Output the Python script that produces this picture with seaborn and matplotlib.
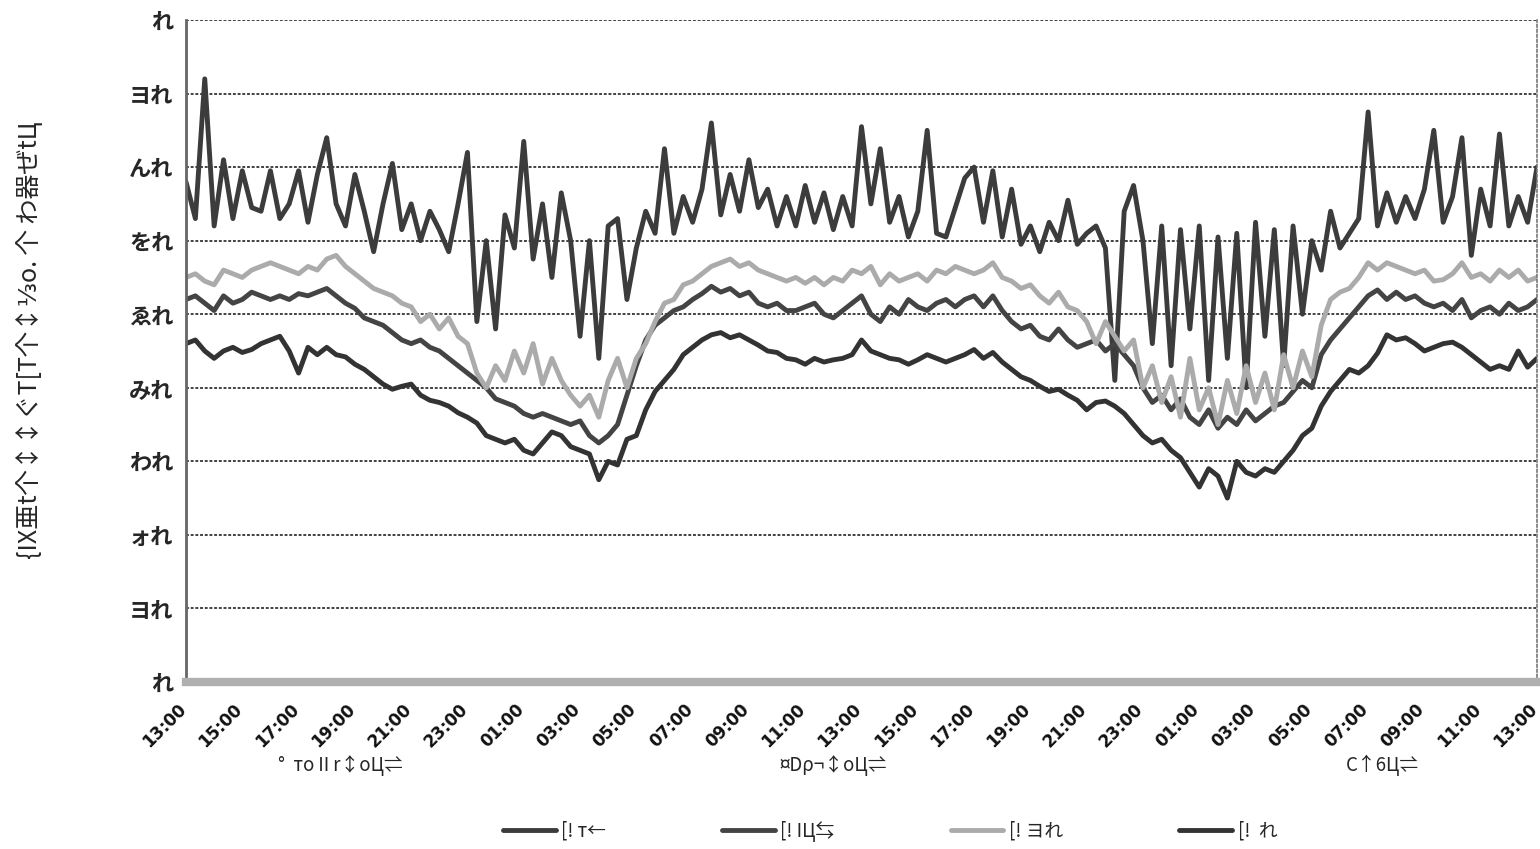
import numpy as np
import pandas as pd
import matplotlib
matplotlib.use("Agg")
import matplotlib.pyplot as plt
import matplotlib.transforms as mtransforms
import seaborn as sns
from matplotlib.lines import Line2D

# ---------------- data ----------------
x_tick_labels = ["13:00", "15:00", "17:00", "19:00", "21:00", "23:00", "01:00", "03:00",
                 "05:00", "07:00", "09:00", "11:00", "13:00", "15:00", "17:00", "19:00",
                 "21:00", "23:00", "01:00", "03:00", "05:00", "07:00", "09:00", "11:00", "13:00"]
y_tick_values = [0, 10, 20, 30, 40, 50, 60, 70, 80, 90]
y_tick_labels = ["れ", "ヨれ", "ォれ", "われ", "みれ", "ゑれ", "をれ", "んれ", "ヨれ", "れ"]
y_label = "{IX亜t个↕↕ぐT[T个↕⅓o. 个 わ器ぜtЦ"
day_labels = ["°  тоⅡr↕оЦ⇌", "¤Dρ¬↕оЦ⇌", "C↑6Ц⇌"]
day_centers = [5.5, 23.0, 42.5]   # hours from start
series_names = ["[! т←", "[! IЦ⇆", "[! ヨれ", "[!  れ"]

# 20-minute samples over 48 hours (145 points)
series_a = [68, 63, 82, 62, 71, 63, 69.5, 64.5, 64, 69.5, 63, 65, 69.5, 62.5, 69, 74, 65, 62, 69, 64,
            58.5, 65, 70.5, 61.5, 65, 60, 64, 61.5, 58.5, 65, 72, 49, 60, 48, 63.5, 59, 73.5, 57.5, 65, 55,
            66.5, 60, 47, 60, 44, 62, 63, 52, 59, 64, 61, 72.5, 61, 66, 62.5, 67, 76, 63.5, 69, 64,
            71, 64.5, 67, 62, 66, 62, 67.5, 62.5, 66.5, 61.5, 66, 62, 75.5, 65, 72.5, 62.5, 66, 60.5, 64, 75,
            61, 60.5, 64.5, 68.5, 70, 62.5, 69.5, 60.5, 67, 59.5, 62, 58.5, 62.5, 60, 65.5, 59.5, 61, 62, 59, 41,
            64, 67.5, 60, 46, 62, 43, 61.5, 48, 62, 41, 60.5, 44, 61, 40, 62.5, 47, 61.5, 43, 62, 50,
            60, 56, 64, 59, 61, 63, 77.5, 62, 66.5, 62.5, 66, 63, 67, 75, 62.5, 66, 74, 58, 67, 62,
            74.5, 62, 66, 62.5, 70]
series_b = [52, 52.5, 51.5, 50.5, 52.5, 51.5, 52, 53, 52.5, 52, 52.5, 52, 52.8, 52.5, 53, 53.5, 52.5, 51.5, 50.8, 49.5,
            49, 48.5, 47.5, 46.5, 46, 46.5, 45.5, 45, 44, 43, 42, 41, 40, 38.5, 38, 37.5, 36.5, 36, 36.5, 36,
            35.5, 35, 35.5, 33.5, 32.5, 33.5, 35, 39, 43, 46.5, 48.5, 49.5, 50.5, 51, 52, 52.8, 53.8, 53, 53.5, 52.5,
            53, 51.5, 51, 51.5, 50.5, 50.5, 51, 51.5, 50, 49.5, 50.5, 51.5, 52.5, 50, 49, 51, 50, 52, 51, 50.5,
            51.5, 52, 51, 52, 52.5, 51, 52.5, 50.5, 49, 48, 48.5, 47, 46.5, 48, 46.5, 45.5, 46, 46.5, 45, 46,
            44.5, 43, 40, 38, 39, 37, 38.5, 36, 35, 37, 34.5, 36, 35, 37, 35.5, 36.5, 37.5, 38, 39.5, 41,
            40, 44.5, 46.5, 48, 49.5, 51, 52.5, 53.3, 52, 53, 52, 52.5, 51.5, 51, 51.5, 50.5, 52, 49.5, 50.5, 51,
            50, 51.5, 50.5, 51, 52]
series_c = [55, 55.5, 54.5, 54, 56, 55.5, 55, 56, 56.5, 57, 56.5, 56, 55.5, 56.5, 56, 57.5, 58, 56.5, 55.5, 54.5,
            53.5, 53, 52.5, 51.5, 51, 49, 50, 48, 49.5, 47, 46, 42, 40, 43, 41, 45, 42, 46, 40.5, 44,
            41, 39, 37.5, 39, 36, 41, 44, 40, 44, 46, 49, 51.5, 52, 54, 54.5, 55.5, 56.5, 57, 57.5, 56.5,
            57, 56, 55.5, 55, 54.5, 55, 54.2, 55, 54, 55, 54.5, 56, 55.5, 56.5, 54, 55.5, 54.5, 55, 55.5, 54.5,
            56, 55.5, 56.5, 56, 55.5, 56, 57, 55, 54.5, 53.5, 54, 52.5, 51.5, 53, 51, 50.5, 49, 46, 49, 47,
            45, 46.5, 40, 43, 38, 41.5, 36, 44, 37, 40, 35, 41, 36.5, 43, 38, 42, 37, 44.5, 40, 45,
            41.5, 48.5, 52, 53, 53.5, 55, 57, 56, 57, 56.5, 56, 55.5, 56, 54.5, 54.7, 55.5, 57, 55, 55.5, 54.5,
            56, 55, 56, 54.5, 55]
series_d = [46, 46.5, 45, 44, 45, 45.5, 44.8, 45.2, 46, 46.5, 47, 45, 42, 45.5, 44.5, 45.5, 44.5, 44.2, 43.2, 42.5,
            41.5, 40.5, 39.8, 40.2, 40.5, 39, 38.3, 38, 37.5, 36.6, 36, 35.2, 33.5, 33, 32.5, 33, 31.5, 31, 32.5, 34,
            33.5, 32, 31.5, 31, 27.5, 30, 29.5, 33, 33.5, 37, 39.5, 41, 42.5, 44.5, 45.5, 46.5, 47.2, 47.5, 46.8, 47.2,
            46.5, 45.8, 45, 44.8, 44, 43.8, 43.2, 44, 43.5, 43.8, 44, 44.5, 46.5, 45, 44.5, 44, 43.8, 43.2, 43.8, 44.5,
            44, 43.5, 44, 44.5, 45.2, 44, 44.8, 43.5, 42.5, 41.5, 41, 40.2, 39.5, 39.8, 39, 38.3, 37, 38, 38.2, 37.5,
            36.5, 35, 33.5, 32.5, 33, 31.5, 30.5, 28.5, 26.5, 29, 28, 25, 30, 28.5, 28, 29, 28.5, 30, 31.5, 33.5,
            34.5, 37.5, 39.5, 41, 42.5, 42, 43, 44.7, 47.2, 46.5, 46.8, 46, 45, 45.5, 46, 46.2, 45.5, 44.5, 43.5, 42.5,
            43, 42.5, 45, 42.8, 44]

hours = np.arange(len(series_a)) / 3.0
tick_hours = np.arange(0, 49, 2)

df = pd.concat([
    pd.DataFrame({"hour": hours, "value": vals, "series": name})
    for name, vals in zip(series_names, [series_a, series_b, series_c, series_d])
], ignore_index=True)

# ---------------- style ----------------
sns.set_style("white")
plt.rcParams["font.family"] = ["Noto Sans CJK JP", "DejaVu Sans"]

colors = ["#3c3c3c", "#444444", "#ababab", "#333333"]
palette = dict(zip(series_names, colors))

fig = plt.figure(figsize=(15.4, 8.49), dpi=100)
ax = fig.add_axes([186 / 1540, 1 - 682 / 849, (1537 - 186) / 1540, (682 - 20) / 849])

sns.lineplot(data=df, x="hour", y="value", hue="series", hue_order=series_names,
             palette=palette, estimator=None, linewidth=3.5, legend=False, ax=ax)

ax.set_xlim(0, 48)
ax.set_ylim(0, 90)
ax.set_xticks(tick_hours)
ax.set_xticklabels([])
# rotated time labels, drawn at the tick positions through the x-axis transform
lab_tr = mtransforms.offset_copy(ax.get_xaxis_transform(), fig=fig, x=-4, y=-23, units="dots")
for h, lab in zip(tick_hours, x_tick_labels):
    ax.text(h, 0, lab, transform=lab_tr, rotation=45, ha="right", va="center_baseline",
            rotation_mode="anchor", fontsize=12.2, fontweight="bold",
            family=["DejaVu Sans"], color="#111111")

ax.set_yticks(y_tick_values)
ax.set_yticklabels(y_tick_labels, fontsize=16, fontweight="bold")
ax.tick_params(axis="x", length=0, pad=10)
ax.tick_params(axis="y", length=5, width=1, color="#666666", pad=4)
ax.set_xlabel("")
ax.set_ylabel(y_label, fontsize=18)
ax.yaxis.set_label_coords(-0.106, 0.517)

ax.yaxis.grid(True, linestyle=(0, (1.6, 1.0)), color="#333333", linewidth=1.3)
ax.xaxis.grid(False)
ax.set_axisbelow(True)

ax.spines["top"].set_visible(False)
ax.spines["right"].set_linestyle((0, (1.5, 1.5)))
ax.spines["right"].set_color("#777777")
ax.spines["right"].set_linewidth(1.2)
ax.spines["left"].set_linestyle((0, (1.5, 1.0)))
ax.spines["left"].set_color("#666666")
ax.spines["left"].set_linewidth(2.0)
ax.spines["bottom"].set_color("#b0b0b0")
ax.spines["bottom"].set_linewidth(6)

# day group labels under the axis
for c, lab in zip(day_centers, day_labels):
    ax.annotate(lab, xy=(c / 48, 0), xycoords="axes fraction", xytext=(0, -60),
                textcoords="offset points", ha="center", va="center", fontsize=13.5)

handles = [Line2D([0], [0], color=palette[n], lw=3.5) for n in series_names]
fig.legend(handles, series_names, loc="center", bbox_to_anchor=(0.578, 0.021), ncol=4,
           frameon=False, fontsize=13.5, handlelength=2.8, handletextpad=0.3, columnspacing=6.2)

fig.savefig("out.png", dpi=100)
